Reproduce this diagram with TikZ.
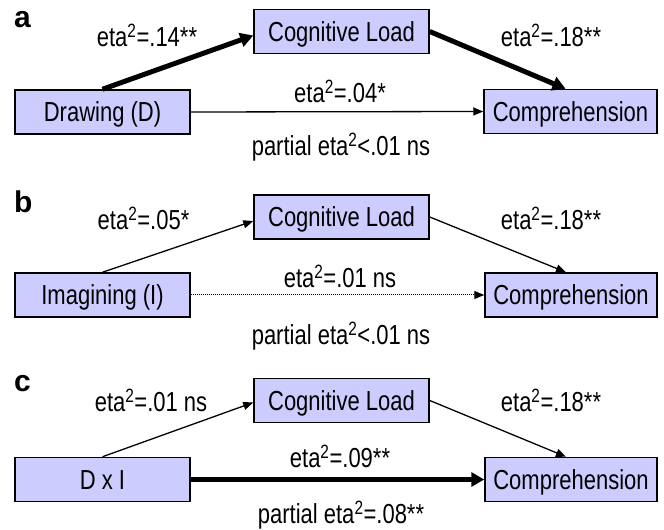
\documentclass[tikz,border=0pt]{standalone}
\usepackage{fontspec}
\setmainfont{Liberation Sans}[FakeStretch=0.8]
\newfontfamily\panelfont{Liberation Sans}
\usetikzlibrary{arrows.meta}
\definecolor{boxfill}{RGB}{204,204,255}
\tikzset{
	varbox/.style={draw, fill=boxfill, line width=1.5pt, minimum width=175pt, minimum height=44pt, inner sep=0pt, text height=19.5pt, text depth=0pt, font=\fontsize{27.5}{30}\selectfont},
	efflabel/.style={anchor=base, inner sep=0pt, font=\fontsize{27.5}{30}\selectfont},
	panel/.style={anchor=base west, inner sep=0pt, font=\panelfont\bfseries\fontsize{30}{32}\selectfont},
	thinpath/.style={line width=1.3pt, -{Triangle[length=10pt,width=8pt]}},
	thickpath/.style={line width=5pt, -{Triangle[length=13pt,width=14pt]}},
	dotpath/.style={line width=1pt, dash pattern=on 1pt off 1pt, -{Triangle[length=10pt,width=8pt]}},
}
\def\eta{eta\textsuperscript{2}}

\begin{document}
\begin{tikzpicture}[x=1pt, y=1pt]
		%%%%% START %%%%%
		\useasboundingbox (0, 0) rectangle (664, 530);
		
		% panel a
		\node[panel] (la) at (14, 502) {a};
		\node[varbox] (drw) at (102.5, 418) {Drawing (D)};
		\node[varbox] (cla) at (341.5, 498.5) {Cognitive Load};
		\node[varbox, minimum width=173pt] (cpa) at (570.5, 418.5) {Comprehension};
		
		\draw[thickpath] (drw.north) -- ([yshift=-4pt]cla.west);
		\draw[thickpath] (cla.east) -- ([xshift=-5pt]cpa.north);
		\draw[thinpath] (drw.east) -- (cpa.west);
		
		\node[efflabel] (ea1) at (147, 483.5) {\eta=.14**};
		\node[efflabel] (ea2) at (551, 483.5) {\eta=.18**};
		\node[efflabel] (ea3) at (340, 427) {\eta=.04*};
		\node[efflabel] (ea4) at (341, 374) {partial \eta<.01 ns};
		
		% panel b
		\node[panel] (lb) at (14, 317) {b};
		\node[varbox] (img) at (102.5, 235) {Imagining (I)};
		\node[varbox] (clb) at (341.5, 313) {Cognitive Load};
		\node[varbox, minimum width=172pt] (cpb) at (571, 235) {Comprehension};
		
		\draw[thinpath] (img.north) -- ([yshift=-4pt]clb.west);
		\draw[thinpath] (clb.east) -- ([xshift=-5pt]cpb.north);
		\draw[dotpath] (img.east) -- (cpb.west);
		
		\node[efflabel] (eb1) at (143.5, 300) {\eta=.05*};
		\node[efflabel] (eb2) at (551, 300) {\eta=.18**};
		\node[efflabel] (eb3) at (340, 242) {\eta=.01 ns};
		\node[efflabel] (eb4) at (341, 185) {partial \eta<.01 ns};
		
		% panel c
		\node[panel] (lc) at (14, 138) {c};
		\node[varbox] (dxi) at (102.5, 50.5) {D x I};
		\node[varbox] (clc) at (341.5, 129.5) {Cognitive Load};
		\node[varbox, minimum width=172pt] (cpc) at (571, 50.5) {Comprehension};
		
		\draw[thinpath] (dxi.north) -- ([yshift=-2pt]clc.west);
		\draw[thinpath] (clc.east) -- ([xshift=-5pt]cpc.north);
		\draw[thickpath] (dxi.east) -- (cpc.west);
		
		\node[efflabel] (ec1) at (151, 118) {\eta=.01 ns};
		\node[efflabel] (ec2) at (551, 118) {\eta=.18**};
		\node[efflabel] (ec3) at (340, 62) {\eta=.09**};
		\node[efflabel] (ec4) at (341, 6.5) {partial \eta=.08**};
		
		%%%%% END %%%%%
	\end{tikzpicture}
\end{document}
